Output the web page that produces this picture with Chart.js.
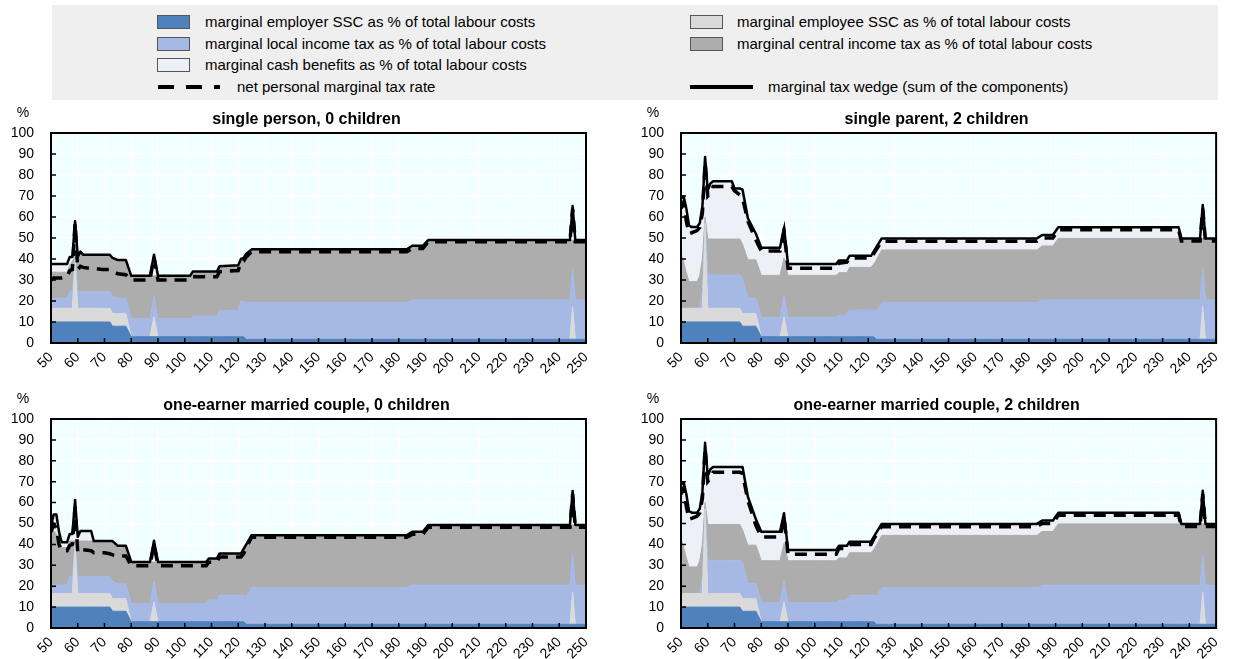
<!DOCTYPE html>
<html>
<head>
<meta charset="utf-8">
<title>Marginal tax wedge components</title>
<script src="https://cdn.jsdelivr.net/npm/chart.js@4.4.1/dist/chart.umd.min.js"></script>
<style>
  body { margin: 0; background: #fff; font-family: "Liberation Sans", Arial, sans-serif; }
  #page { position: relative; width: 1234px; height: 659px; overflow: hidden; }
  #legend { position: absolute; left: 52px; top: 5px; width: 1166px; height: 95px; background: #efefef; }
  .item { position: absolute; height: 18px; line-height: 18px; font-size: 15px; color: #000; white-space: nowrap; }
  .swatch { position: absolute; top: 2px; width: 31px; height: 12px; border: 1px solid #555; }
  .item svg { position: absolute; top: 0; }
  canvas { position: absolute; }
</style>
</head>
<body>
<div id="page">
  <div id="legend">
    <div class="item" style="left:105px;top:8px"><span class="swatch" style="left:0;background:#4f81bd"></span><span style="position:absolute;left:48px">marginal employer SSC as % of total labour costs</span></div>
    <div class="item" style="left:105px;top:30px"><span class="swatch" style="left:0;background:#a6b9e4"></span><span style="position:absolute;left:48px">marginal local income tax as % of total labour costs</span></div>
    <div class="item" style="left:105px;top:51px"><span class="swatch" style="left:0;background:#eef0f8"></span><span style="position:absolute;left:48px">marginal cash benefits as % of total labour costs</span></div>
    <div class="item" style="left:105px;top:73px"><svg width="64" height="18"><line x1="1" y1="9" x2="63" y2="9" stroke="#000" stroke-width="4" stroke-dasharray="16,12"/></svg><span style="position:absolute;left:80px">net personal marginal tax rate</span></div>
    <div class="item" style="left:638px;top:8px"><span class="swatch" style="left:0;background:#dadada"></span><span style="position:absolute;left:47px">marginal employee SSC as % of total labour costs</span></div>
    <div class="item" style="left:638px;top:30px"><span class="swatch" style="left:0;background:#adadad"></span><span style="position:absolute;left:47px">marginal central income tax as % of total labour costs</span></div>
    <div class="item" style="left:638px;top:73px"><svg width="64" height="18"><line x1="0" y1="9" x2="63" y2="9" stroke="#000" stroke-width="4"/></svg><span style="position:absolute;left:78px">marginal tax wedge (sum of the components)</span></div>
  </div>
  <canvas id="chartSingle" width="617" height="280" style="left:0;top:100px"></canvas>
  <canvas id="chartParent" width="617" height="280" style="left:617px;top:100px"></canvas>
  <canvas id="chartCouple0" width="617" height="279" style="left:0;top:380px"></canvas>
  <canvas id="chartCouple2" width="617" height="279" style="left:617px;top:380px"></canvas>
</div>
<script>
// gross earnings as % of average wage (x positions where the curves change)
const incomeLevels = [
  50, 51, 52, 53, 54, 56, 57, 58, 59, 60, 61, 62, 65, 66, 69, 70, 72, 73, 75, 78,
  80, 87, 88.5, 90, 102, 103, 108, 109, 112, 113, 120, 121, 122, 123, 125,
  183, 185, 189, 191, 236, 237, 244, 245, 246, 250,
];

// components, same for every household
const employerSSC = [
  10, 10, 10, 10, 10, 10, 10, 10, 10, 10, 10, 10, 10, 10, 10, 10, 10, 8, 8, 8,
  3, 3, 3, 3, 3, 3, 3, 3, 3, 3, 3, 3, 3, 1.8, 1.8,
  1.8, 1.8, 1.8, 1.8, 1.8, 1.8, 1.8, 1.8, 1.8, 1.8,
];
const employeeSSC0 = [
  6.5, 6.5, 6.5, 6.5, 6.5, 6.5, 6.5, 6.5, 30, 6.5, 6.5, 6.5, 6.5, 6.5, 6.5, 6.5, 6.5, 6, 6, 6,
  0, 0, 9.5, 0, 0, 0, 0, 0, 0, 0, 0, 0, 0, 0, 0,
  0, 0, 0, 0, 0, 0, 0, 15.5, 0, 0,
];
const employeeSSC2 = [
  6.5, 6.5, 6.5, 6.5, 6.5, 6.5, 6.5, 6.5, 47, 6.5, 6.5, 6.5, 6.5, 6.5, 6.5, 6.5, 6.5, 6, 6, 6,
  0, 0, 9.5, 0, 0, 0, 0, 0, 0, 0, 0, 0, 0, 0, 0,
  0, 0, 0, 0, 0, 0, 0, 15.5, 0, 0,
];

// single person, 0 children
const localTaxSingle = [
  4.8, 4.8, 4.8, 4.8, 4.8, 4.8, 7.9, 7.9, 1, 7.9, 7.9, 7.9, 7.9, 7.9, 7.9, 7.9, 7.9, 8, 7.3, 7.3,
  8.5, 8.5, 9.9, 8.5, 8.5, 9.8, 9.8, 9.8, 9.8, 12.5, 12.5, 17, 16.5, 17.4, 17.4,
  17.4, 18.7, 18.7, 18.7, 18.7, 18.7, 18.7, 18.2, 18.7, 18.7,
];
const centralTaxSingle = [
  12.4, 12.4, 12.4, 12.4, 12.4, 12.4, 12.6, 14.6, 0, 15.6, 18.1, 17.6, 17.6, 17.6, 17.6, 17.6, 17.6, 18.5, 18.2, 18.2,
  20.5, 20.5, 9.6, 20.5, 20.5, 21.2, 21.2, 21.2, 21.2, 21, 21.5, 20, 21, 23.3, 25.4,
  25.4, 25.8, 25.8, 28.5, 28.5, 28.5, 28.5, 13.5, 28.5, 28.5,
];
const cashSingle = [
  3.9, 3.9, 3.9, 3.9, 3.9, 3.9, 4, 2, 0, 1, 1, 0, 0, 0, 0, 0, 0, 0, 0, 0,
  0, 0, 0, 0, 0, 0, 0, 0, 0, 0, 0, 0, 0, 0, 0,
  0, 0, 0, 0, 0, 0, 0, 0, 0, 0,
];
const wedgeSingle = [
  37.6, 37.6, 37.6, 37.6, 37.6, 37.6, 41, 41, 58, 41, 43.5, 42, 42, 42, 42, 42, 42, 40.5, 39.5, 39.5,
  32, 32, 42, 32, 32, 34, 34, 34, 34, 36.5, 37, 40, 40.5, 42.5, 44.6,
  44.6, 46.3, 46.3, 49, 49, 49, 49, 65.2, 49, 49,
];
const netSingle = [
  30, 31, 31, 31, 31, 31.5, 34.5, 35, 57, 35, 36.5, 36, 35.5, 35.5, 35, 35, 35, 34, 33, 32.5,
  30, 30, 41, 30, 30, 31.5, 31.5, 31.5, 31.5, 34, 34.5, 38.5, 39, 41, 43.5,
  43.5, 45, 45, 48.2, 48.2, 48.2, 48.2, 64, 48.2, 48.2,
];

// one-earner married couple, 0 children
const localTaxCouple0 = [
  4.1, 4.1, 4.1, 4.1, 4.1, 4.1, 8.1, 8.1, 1, 8.1, 8.1, 8.1, 8.1, 8.1, 8.1, 8.1, 8.1, 8.5, 7.1, 7.1,
  8.8, 8.8, 9.9, 8.8, 8.8, 8.8, 8.8, 10.4, 10.4, 12.7, 12.7, 12.7, 12.7, 13.4, 17.4,
  17.4, 18.7, 18.7, 18.7, 18.7, 18.7, 18.7, 18.2, 18.7, 18.7,
];
const centralTaxCouple0 = [
  25.4, 25.9, 24.4, 20.4, 17.9, 17.9, 17, 17, 0.6, 17, 17, 17, 17, 17, 17, 17, 17, 19.1, 18.2, 18.2,
  19.8, 19.8, 9.2, 19.8, 19.8, 19.8, 19.8, 19.9, 19.9, 19.9, 19.9, 19.9, 22.1, 24.8, 25.2,
  25.2, 25.5, 25.5, 28.8, 28.8, 28.8, 28.8, 13.8, 28.8, 28.8,
];
const cashCouple0 = [
  3, 7.8, 9.3, 5, 2.5, 2.5, 3.4, 3.4, 3.4, 2, 4.8, 4.8, 4.8, 0, 0, 0, 0, 0, 0, 0,
  0, 0, 0, 0, 0, 0, 0, 0, 0, 0, 0, 0, 0, 0, 0,
  0, 0, 0, 0, 0, 0, 0, 0, 0, 0,
];
const wedgeCouple0 = [
  49, 54.3, 54.3, 46, 41, 41, 45, 45, 61.3, 43.6, 46.4, 46.4, 46.4, 41.6, 41.6, 41.6, 41.6, 41.6, 39.3, 39.3,
  31.6, 31.6, 41.7, 31.6, 31.6, 31.6, 31.6, 33.3, 33.3, 35.6, 35.6, 35.6, 37.8, 40, 44.4,
  44.4, 46, 46, 49.3, 49.3, 49.3, 49.3, 65.6, 49.3, 49.3,
];
const netCouple0 = [
  46, 49.5, 48, 40, 37, 37, 39.5, 40, 58, 36, 37, 37.5, 37, 36, 36, 36, 35.5, 35, 34.5, 34.5,
  29.8, 29.8, 40, 29.8, 29.8, 29.8, 29.8, 31.5, 31.5, 34, 34, 34, 35.5, 38.5, 43.4,
  43.4, 44.8, 44.8, 48.2, 48.2, 48.2, 48.2, 64, 48.2, 48.2,
];

// households with 2 children (single parent and married couple)
const localTax2 = [
  0, 0, 0, 0, 0, 0, 0.5, 8, 1.5, 15.9, 15.9, 15.9, 15.9, 15.9, 15.9, 15.9, 15.9, 17, 7.3, 7.3,
  9.2, 9.2, 10, 9.2, 9.2, 9.2, 9.2, 10.3, 10.3, 12.7, 12.7, 12.7, 12.7, 13.4, 17.4,
  17.4, 18.7, 18.7, 18.7, 18.7, 18.7, 18.7, 18.2, 18.7, 18.7,
];
const centralTax2 = [
  26.2, 22, 17, 12.7, 12.7, 12.7, 15, 15.5, 1.5, 17.1, 17.1, 17.1, 17.1, 17.1, 17.1, 17.1, 17.1, 16, 18.3, 18.3,
  20, 20, 18, 20, 20, 20, 20, 20.2, 20.2, 20.3, 20.3, 20.3, 21.8, 24.3, 25.1,
  25.1, 25.7, 25.7, 29.3, 29.3, 29.3, 29.3, 14.3, 29.3, 29.3,
];

// single parent, 2 children
const cashParent = [
  26.3, 31.2, 30.5, 26.8, 26, 26, 25, 25, 28.6, 23.2, 26.5, 27.5, 27.5, 27.5, 27.5, 24.1, 24.1, 26, 19.8, 12.4,
  13.2, 13.2, 14.5, 5.4, 5.4, 5.4, 5.4, 5.8, 5.8, 5.5, 5.5, 5.5, 6, 6.1, 5.5,
  5.5, 5.2, 5.2, 5.3, 5.3, 0, 0, 0, 0, 0,
];
const wedgeParent = [
  69, 69.7, 64, 56, 55.2, 55.2, 57, 65, 88.6, 72.7, 76, 77, 77, 77, 77, 73.6, 73.6, 73, 59.4, 52,
  45.4, 45.4, 55, 37.6, 37.6, 37.6, 37.6, 39.3, 39.3, 41.5, 41.5, 41.5, 43.5, 45.6, 49.8,
  49.8, 51.4, 51.4, 55.1, 55.1, 49.8, 49.8, 65.7, 49.8, 49.8,
];
const netParent = [
  64, 67, 58, 52, 52.5, 53.5, 55, 62, 86, 70, 71.5, 74.5, 74.5, 74.5, 74.5, 72.5, 70.5, 69, 58, 49,
  43.8, 43.8, 53, 35.6, 35.6, 35.6, 35.6, 38, 38.5, 40.5, 40.5, 40.5, 42.5, 44.5, 48.5,
  48.5, 50, 50, 53.9, 53.9, 48.6, 48.6, 64, 48.6, 48.6,
];

// one-earner married couple, 2 children
const cashCouple2 = [
  26.3, 31.2, 30.5, 26.8, 26, 26, 25, 25, 28.6, 23.2, 26.5, 27.5, 27.5, 27.5, 27.5, 27.5, 27.5, 30, 23.2, 12.4,
  13.8, 13.8, 14.4, 5.1, 5.1, 5.1, 5.1, 5.8, 5.8, 5.3, 5.3, 5.3, 6, 6.1, 5.5,
  5.5, 5.2, 5.2, 5.3, 5.3, 0, 0, 0, 0, 0,
];
const wedgeCouple2 = [
  69, 69.7, 64, 56, 55.2, 55.2, 57, 65, 88.6, 72.7, 76, 77, 77, 77, 77, 77, 77, 77, 62.8, 52,
  46, 46, 54.9, 37.3, 37.3, 37.3, 37.3, 39.3, 39.3, 41.3, 41.3, 41.3, 43.5, 45.6, 49.8,
  49.8, 51.4, 51.4, 55.1, 55.1, 49.8, 49.8, 65.7, 49.8, 49.8,
];
const netCouple2 = [
  64, 67, 58, 52, 52.5, 53.5, 55, 62, 86, 70, 71.5, 74.5, 74.5, 74.5, 74.5, 74.5, 74.5, 74, 61, 49,
  43.6, 43.6, 53, 35.3, 35.3, 35.3, 35.3, 38, 38, 40, 40, 40, 42.5, 44.5, 48.5,
  48.5, 50, 50, 53.9, 53.9, 48.6, 48.6, 64, 48.6, 48.6,
];

const FONT = '"Liberation Sans", Arial, sans-serif';
Chart.defaults.font.family = FONT;
Chart.defaults.color = "#000";

const areaStyles = [
  { label: "marginal employer SSC as % of total labour costs", color: "#4f81bd" },
  { label: "marginal employee SSC as % of total labour costs", color: "#dadada" },
  { label: "marginal local income tax as % of total labour costs", color: "#a6b9e4" },
  { label: "marginal central income tax as % of total labour costs", color: "#adadad" },
  { label: "marginal cash benefits as % of total labour costs", color: "#eef0f8" },
];

function pontos(valores) {
  return incomeLevels.map((x, i) => ({ x: x, y: valores[i] }));
}

// background, frame, inside ticks, title and the "%" unit
const painelExtras = {
  id: "painelExtras",
  beforeDraw(chart) {
    const { ctx, chartArea: a } = chart;
    ctx.save();
    ctx.fillStyle = "#f2ffff";
    ctx.fillRect(a.left, a.top, a.right - a.left, a.bottom - a.top);
    ctx.restore();
  },
  afterDraw(chart, args, opts) {
    const { ctx, chartArea: a, scales } = chart;
    ctx.save();
    ctx.strokeStyle = "#000";
    ctx.lineWidth = 1.5;
    ctx.beginPath();
    scales.x.ticks.forEach((t) => {
      const x = scales.x.getPixelForValue(t.value);
      ctx.moveTo(x, a.bottom);
      ctx.lineTo(x, a.bottom - 5);
    });
    scales.y.ticks.forEach((t) => {
      const y = scales.y.getPixelForValue(t.value);
      ctx.moveTo(a.left, y);
      ctx.lineTo(a.left + 5, y);
    });
    ctx.stroke();
    ctx.lineWidth = 2;
    ctx.strokeRect(a.left, a.top, a.right - a.left, a.bottom - a.top);
    ctx.fillStyle = "#000";
    ctx.textAlign = "center";
    ctx.textBaseline = "middle";
    ctx.font = "bold 16px " + FONT;
    ctx.fillText(opts.title, (a.left + a.right) / 2 - 12, a.top - 13);
    ctx.font = "14px " + FONT;
    ctx.fillText("%", a.left - 28, a.top - 20);
    ctx.restore();
  },
};

function criaPainel(id, titulo, componentes, wedge, net, caixa) {
  const datasets = [
    {
      label: "marginal tax wedge (sum of the components)",
      data: pontos(wedge),
      stack: "wedge",
      borderColor: "#000",
      borderWidth: 2.5,
      borderJoinStyle: "round",
      fill: false,
    },
    {
      label: "net personal marginal tax rate",
      data: pontos(net),
      stack: "net",
      borderColor: "#000",
      borderWidth: 3.5,
      borderDash: [12, 8],
      fill: false,
    },
  ];
  componentes.forEach((valores, i) => {
    datasets.push({
      label: areaStyles[i].label,
      data: pontos(valores),
      stack: "components",
      backgroundColor: areaStyles[i].color,
      borderColor: areaStyles[i].color,
      borderWidth: 1,
      fill: i === 0 ? "origin" : "-1",
    });
  });

  return new Chart(document.getElementById(id), {
    type: "line",
    data: { datasets: datasets },
    plugins: [painelExtras],
    options: {
      responsive: false,
      animation: false,
      events: [],
      elements: { point: { radius: 0 }, line: { tension: 0 } },
      layout: { autoPadding: false, padding: { left: 0, right: caixa.right, top: caixa.top, bottom: 0 } },
      plugins: {
        legend: { display: false },
        tooltip: { enabled: false },
        painelExtras: { title: titulo },
      },
      scales: {
        x: {
          type: "linear",
          min: 50,
          max: 250,
          grid: { color: "#ffffff", lineWidth: 1.5, drawTicks: false },
          border: { display: false },
          ticks: { stepSize: 10, autoSkip: false, minRotation: 45, maxRotation: 45, padding: 6, font: { size: 14 } },
          afterFit: (s) => { s.height = caixa.bottom; },
        },
        y: {
          stacked: true,
          min: 0,
          max: 100,
          grid: { color: "#ffffff", lineWidth: 1.5, drawTicks: false },
          border: { display: false },
          ticks: { stepSize: 10, padding: 17, font: { size: 14 } },
          afterFit: (s) => { s.width = caixa.left; },
        },
      },
    },
  });
}

criaPainel("chartSingle", "single person, 0 children",
  [employerSSC, employeeSSC0, localTaxSingle, centralTaxSingle, cashSingle],
  wedgeSingle, netSingle, { left: 51, right: 31, top: 33, bottom: 37 });

criaPainel("chartParent", "single parent, 2 children",
  [employerSSC, employeeSSC2, localTax2, centralTax2, cashParent],
  wedgeParent, netParent, { left: 64, right: 15, top: 33, bottom: 37 });

criaPainel("chartCouple0", "one-earner married couple, 0 children",
  [employerSSC, employeeSSC0, localTaxCouple0, centralTaxCouple0, cashCouple0],
  wedgeCouple0, netCouple0, { left: 51, right: 31, top: 39, bottom: 31 });

criaPainel("chartCouple2", "one-earner married couple, 2 children",
  [employerSSC, employeeSSC2, localTax2, centralTax2, cashCouple2],
  wedgeCouple2, netCouple2, { left: 64, right: 15, top: 39, bottom: 31 });
</script>
</body>
</html>
